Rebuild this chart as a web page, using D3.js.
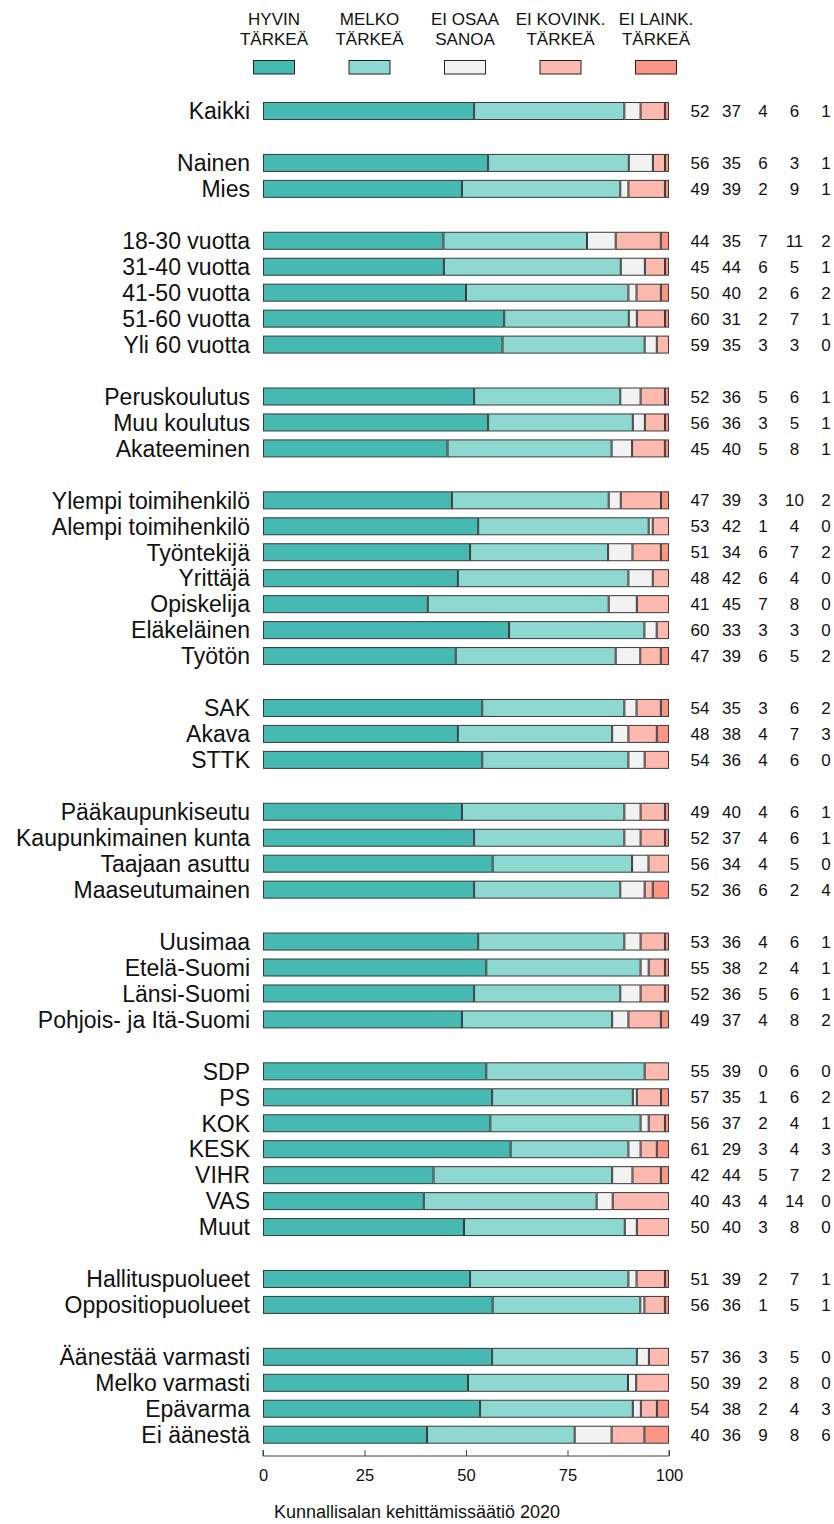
<!DOCTYPE html>
<html>
<head>
<meta charset="utf-8">
<script src="https://cdn.jsdelivr.net/npm/d3@7"></script>
<style>
  body { margin: 0; background: #fff; }
  svg { display: block; font-family: "Liberation Sans", Arial, sans-serif; }
</style>
</head>
<body>
<div id="chart"></div>
<script>
const categories = [
  "Kaikki",
  "Nainen", "Mies",
  "18-30 vuotta", "31-40 vuotta", "41-50 vuotta", "51-60 vuotta", "Yli 60 vuotta",
  "Peruskoulutus", "Muu koulutus", "Akateeminen",
  "Ylempi toimihenkilö", "Alempi toimihenkilö", "Työntekijä", "Yrittäjä", "Opiskelija", "Eläkeläinen", "Työtön",
  "SAK", "Akava", "STTK",
  "Pääkaupunkiseutu", "Kaupunkimainen kunta", "Taajaan asuttu", "Maaseutumainen",
  "Uusimaa", "Etelä-Suomi", "Länsi-Suomi", "Pohjois- ja Itä-Suomi",
  "SDP", "PS", "KOK", "KESK", "VIHR", "VAS", "Muut",
  "Hallituspuolueet", "Oppositiopuolueet",
  "Äänestää varmasti", "Melko varmasti", "Epävarma", "Ei äänestä"
];
const groupSizes = [1, 2, 5, 3, 7, 3, 4, 4, 7, 2, 4];

const hyvin   = [52, 56, 49, 44, 45, 50, 60, 59, 52, 56, 45, 47, 53, 51, 48, 41, 60, 47, 54, 48, 54, 49, 52, 56, 52, 53, 55, 52, 49, 55, 57, 56, 61, 42, 40, 50, 51, 56, 57, 50, 54, 40];
const melko   = [37, 35, 39, 35, 44, 40, 31, 35, 36, 36, 40, 39, 42, 34, 42, 45, 33, 39, 35, 38, 36, 40, 37, 34, 36, 36, 38, 36, 37, 39, 35, 37, 29, 44, 43, 40, 39, 36, 36, 39, 38, 36];
const eiOsaa  = [4, 6, 2, 7, 6, 2, 2, 3, 5, 3, 5, 3, 1, 6, 6, 7, 3, 6, 3, 4, 4, 4, 4, 4, 6, 4, 2, 5, 4, 0, 1, 2, 3, 5, 4, 3, 2, 1, 3, 2, 2, 9];
const eiKovin = [6, 3, 9, 11, 5, 6, 7, 3, 6, 5, 8, 10, 4, 7, 4, 8, 3, 5, 6, 7, 6, 6, 6, 5, 2, 6, 4, 6, 8, 6, 6, 4, 4, 7, 14, 8, 7, 5, 5, 8, 4, 8];
const eiLaink = [1, 1, 1, 2, 1, 2, 1, 0, 1, 1, 1, 2, 0, 2, 0, 0, 0, 2, 2, 3, 0, 1, 1, 0, 4, 1, 1, 1, 2, 0, 2, 1, 3, 2, 0, 0, 1, 1, 0, 0, 3, 6];

const seriesNames = [["HYVIN", "TÄRKEÄ"], ["MELKO", "TÄRKEÄ"], ["EI OSAA", "SANOA"], ["EI KOVINK.", "TÄRKEÄ"], ["EI LAINK.", "TÄRKEÄ"]];
const colors = ["#45b9b2", "#8ed8d2", "#f2f2f2", "#feb9ae", "#fd9587"];
const xTicks = [0, 25, 50, 75, 100];
const source = "Kunnallisalan kehittämissäätiö 2020";

const width = 834, height = 1524;
const series = [hyvin, melko, eiOsaa, eiKovin, eiLaink];

// slot index for each row: an empty slot between groups
const slots = [];
let s = 0;
groupSizes.forEach((n) => {
  for (let i = 0; i < n; i++) slots.push(s++);
  s++;
});

const rows = categories.map((name, i) => {
  const vals = series.map((arr) => arr[i]);
  const total = d3.sum(vals);
  let acc = 0;
  const segs = vals.map((v, k) => {
    const seg = { k, x0: acc / total * 100, x1: (acc + v) / total * 100 };
    acc += v;
    return seg;
  });
  return { name, slot: slots[i], vals, segs };
});

const x = d3.scaleLinear().domain([0, 100]).range([263, 669]);
const y = d3.scaleLinear().domain([0, d3.max(slots)]).range([111, 1434.7]);
const barH = 17;

const svg = d3.select("#chart").append("svg")
  .attr("width", width).attr("height", height);

// legend
const legendX = d3.scalePoint().domain(d3.range(5)).range([274, 656]);
const leg = svg.append("g").selectAll("g").data(seriesNames).join("g")
  .attr("transform", (d, i) => `translate(${legendX(i)},0)`);
leg.append("text").attr("y", 25).attr("text-anchor", "middle")
  .attr("font-size", 17).attr("fill", "#111").text((d) => d[0]);
leg.append("text").attr("y", 45).attr("text-anchor", "middle")
  .attr("font-size", 17).attr("fill", "#111").text((d) => d[1]);
leg.append("rect").attr("x", -20.5).attr("y", 60.5).attr("width", 41).attr("height", 13.5)
  .attr("fill", (d, i) => colors[i]).attr("stroke", "#222").attr("stroke-width", 1);

// rows
const g = svg.append("g");
const row = g.selectAll("g.row").data(rows).join("g").attr("class", "row");

row.append("text")
  .attr("x", 250).attr("y", (d) => y(d.slot)).attr("dy", "0.36em")
  .attr("text-anchor", "end").attr("font-size", 23).attr("fill", "#111")
  .text((d) => d.name);

row.selectAll("rect").data((d) => d.segs.map((sg) => ({ ...sg, slot: d.slot }))).join("rect")
  .attr("x", (d) => x(d.x0) + 0.5)
  .attr("y", (d) => y(d.slot) - barH / 2)
  .attr("width", (d) => Math.max(0, x(d.x1) - x(d.x0) - 1))
  .attr("height", barH)
  .attr("fill", (d) => colors[d.k])
  .attr("stroke", "#3a3a3a").attr("stroke-width", 1);

const numX = d3.scalePoint().domain(d3.range(5)).range([700, 826]);
row.selectAll("text.num").data((d) => d.vals.map((v, k) => ({ v, k, slot: d.slot }))).join("text")
  .attr("class", "num")
  .attr("x", (d) => numX(d.k)).attr("y", (d) => y(d.slot)).attr("dy", "0.36em")
  .attr("text-anchor", "middle").attr("font-size", 17).attr("fill", "#111")
  .text((d) => d.v);

// axis
const axis = svg.append("g").attr("transform", "translate(0,1456)")
  .call(d3.axisBottom(x).tickValues(xTicks).tickSize(-6).tickPadding(13));
axis.select(".domain").attr("stroke", "#444").attr("d", `M${x(0)},-6V0H${x(100)}V-6`);
axis.selectAll(".tick line").attr("stroke", "#444");
axis.selectAll(".tick text").attr("font-size", 16.5).attr("fill", "#111")
  .attr("font-family", "\"Liberation Sans\", Arial, sans-serif");

svg.append("text").attr("x", width / 2).attr("y", 1518).attr("text-anchor", "middle")
  .attr("font-size", 18).attr("fill", "#111").text(source);
</script>
</body>
</html>
